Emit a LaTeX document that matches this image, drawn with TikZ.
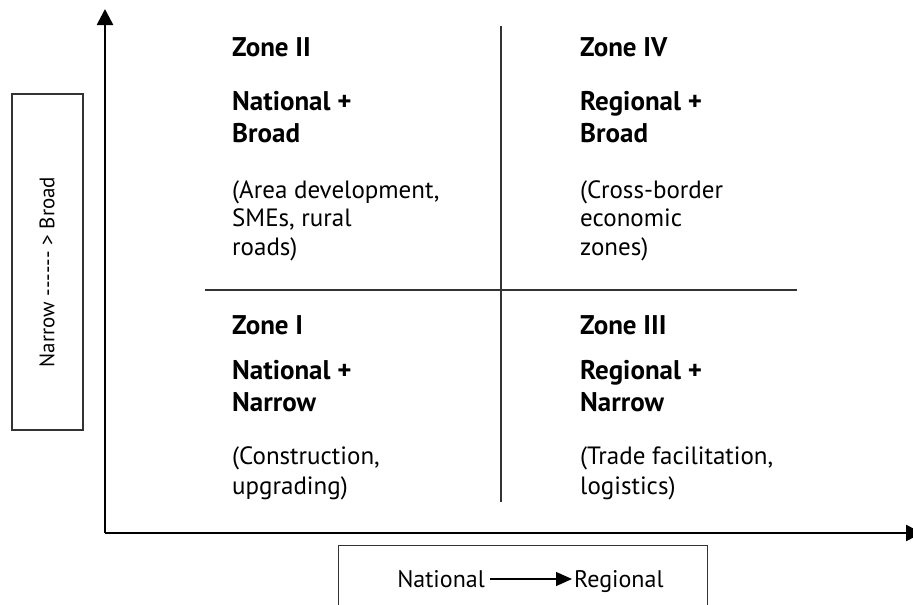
\documentclass[tikz,border=0pt]{standalone}
\usepackage{fontspec}
\setmainfont{PT Sans}
\usetikzlibrary{arrows.meta}
\begin{document}
\begin{tikzpicture}[x=1pt,y=-1pt,
  txt/.style={anchor=base west, inner sep=0pt, font=\fontsize{25}{29}\selectfont},
  hd/.style={anchor=base west, inner sep=0pt, font=\fontsize{27}{31}\selectfont\bfseries},
  axisline/.style={line width=2.6pt, -{Triangle[length=16pt,width=16pt]}},
  divider/.style={line width=1.3pt, draw=black!80},
  frame/.style={draw=black!80, line width=1.3pt}
]
\useasboundingbox (0,0) rectangle (913,605);

% axes
\coordinate (origin) at (105,533);
\coordinate (ytip) at (105,9);
\coordinate (xtip) at (922,533);
\draw[axisline] (origin) -- (ytip);
\draw[axisline] (origin) -- (xtip);

% dividers
\coordinate (vtop) at (501,26);
\coordinate (vbot) at (501,502);
\coordinate (hleft) at (205,290);
\coordinate (hright) at (797,290);
\draw[divider] (vtop) -- (vbot);
\draw[divider] (hleft) -- (hright);

% Zone II
\node[hd]  (z2t)  at (232,56)  {Zone II};
\node[hd]  (z2a)  at (232,110) {National +};
\node[hd]  (z2b)  at (232,142) {Broad};
\node[txt] (z2c)  at (232,198) {(Area development,};
\node[txt] (z2d)  at (232,226) {SMEs, rural};
\node[txt] (z2e)  at (232,255) {roads)};

% Zone IV
\node[hd]  (z4t)  at (580,56)  {Zone IV};
\node[hd]  (z4a)  at (580,110) {Regional +};
\node[hd]  (z4b)  at (580,142) {Broad};
\node[txt] (z4c)  at (580,198) {(Cross-border};
\node[txt] (z4d)  at (580,226) {economic};
\node[txt] (z4e)  at (580,255) {zones)};

% Zone I
\node[hd]  (z1t)  at (232,334) {Zone I};
\node[hd]  (z1a)  at (232,379) {National +};
\node[hd]  (z1b)  at (232,411) {Narrow};
\node[txt] (z1c)  at (232,464) {(Construction,};
\node[txt] (z1d)  at (232,494) {upgrading)};

% Zone III
\node[hd]  (z3t)  at (580,334) {Zone III};
\node[hd]  (z3a)  at (580,379) {Regional +};
\node[hd]  (z3b)  at (580,411) {Narrow};
\node[txt] (z3c)  at (580,464) {(Trade facilitation,};
\node[txt] (z3d)  at (580,494) {logistics)};

% left box
\node[frame, minimum width=71pt, minimum height=336pt, inner sep=0pt] (lbox) at (47.5,262) {};
\node[rotate=90, inner sep=0pt, font=\fontsize{21}{25}\selectfont] (ltxt) at (47,272) {Narrow {-}{-}{-}{-}{-}{-} > Broad};

% bottom box
\node[frame, minimum width=369pt, minimum height=120pt, inner sep=0pt, anchor=north west] (bbox) at (338,545) {};
\node[inner sep=0pt, anchor=base east, font=\fontsize{24}{28}\selectfont] (nat) at (485,587) {National};
\node[inner sep=0pt, anchor=base west, font=\fontsize{24}{28}\selectfont] (reg) at (574,587) {Regional};
\coordinate (na) at (490,579);
\coordinate (ra) at (572,579);
\draw[line width=1.3pt, -{Triangle[length=16pt,width=14pt]}] (na) -- (ra);
\end{tikzpicture}
\end{document}
